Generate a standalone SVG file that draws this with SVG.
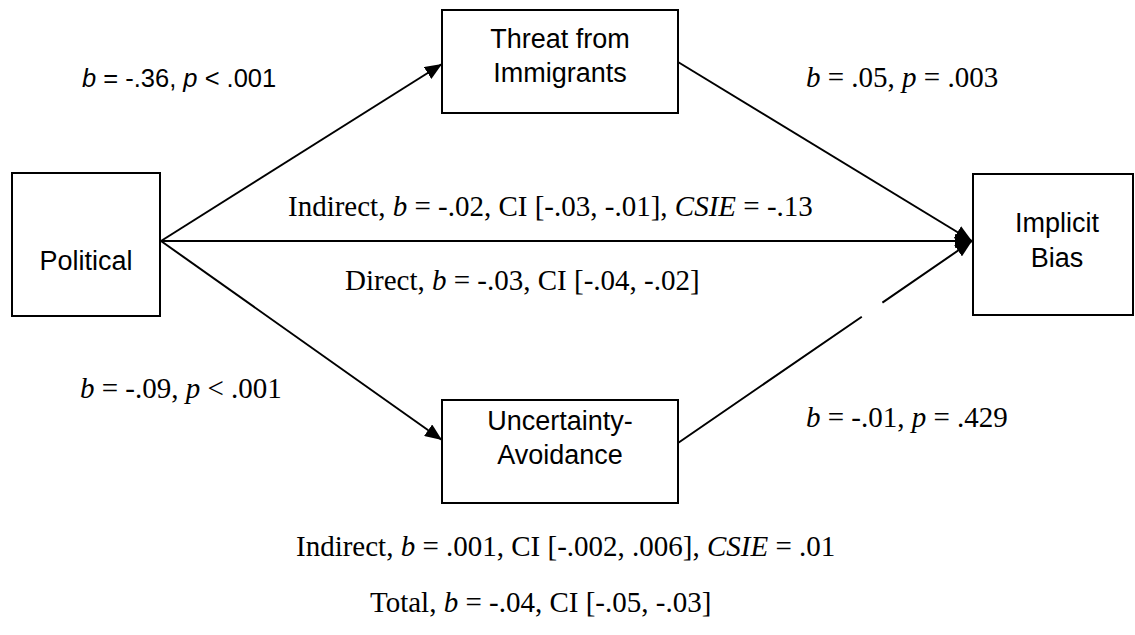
<svg xmlns="http://www.w3.org/2000/svg" width="1135" height="635" viewBox="0 0 1135 635">
  <style>
    .box { fill: #ffffff; stroke: #000000; stroke-width: 2; }
    .lbl { font-family: "Liberation Sans", Arial, sans-serif; font-size: 27px; fill: #000000; text-anchor: middle; }
    .sans { font-family: "Liberation Sans", Arial, sans-serif; font-size: 25.5px; fill: #000000; }
    .ser { font-family: "Liberation Serif", "Times New Roman", serif; font-size: 29px; fill: #000000; }
    .it { font-style: italic; }
    .edge { stroke: #000000; stroke-width: 2; fill: none; }
  </style>
  <defs>
    <marker id="arr" viewBox="0 0 10 10" refX="10" refY="5" markerWidth="8.5" markerHeight="7" markerUnits="strokeWidth" orient="auto" preserveAspectRatio="none">
      <path d="M0,0 L10,5 L0,10 Z" fill="#000000"/>
    </marker>
  </defs>
  <rect width="1135" height="635" fill="#ffffff"/>
  <g id="connectors">
    <line class="edge" x1="161" y1="241" x2="442" y2="64" marker-end="url(#arr)"/>
    <line class="edge" x1="161" y1="241" x2="442" y2="440" marker-end="url(#arr)"/>
    <line class="edge" x1="161" y1="241" x2="972" y2="241" marker-end="url(#arr)"/>
    <line class="edge" x1="678" y1="62" x2="972" y2="241" marker-end="url(#arr)"/>
    <line class="edge" x1="678" y1="443" x2="972" y2="241" stroke-dasharray="223 25 200" marker-end="url(#arr)"/>
  </g>
  <g id="node-political">
    <rect class="box" x="12" y="173" width="148" height="143"/>
    <text class="lbl" x="86" y="270">Political</text>
  </g>
  <g id="node-threat">
    <rect class="box" x="442" y="10" width="236" height="103"/>
    <text class="lbl" x="560" y="48">Threat from</text>
    <text class="lbl" x="560" y="82">Immigrants</text>
  </g>
  <g id="node-uncertainty">
    <rect class="box" x="442" y="400" width="236" height="103"/>
    <text class="lbl" x="560" y="430">Uncertainty-</text>
    <text class="lbl" x="560" y="464">Avoidance</text>
  </g>
  <g id="node-bias">
    <rect class="box" x="973" y="174" width="160" height="141"/>
    <text class="lbl" x="1057" y="232">Implicit</text>
    <text class="lbl" x="1057" y="267">Bias</text>
  </g>
  <g id="labels">
    <text class="sans" x="82" y="87"><tspan class="it">b</tspan> = -.36, <tspan class="it">p</tspan> &lt; .001</text>
    <text class="ser" x="806" y="87"><tspan class="it">b</tspan> = .05, <tspan class="it">p</tspan> = .003</text>
    <text class="ser" x="288" y="216">Indirect, <tspan class="it">b</tspan> = -.02, CI [-.03, -.01], <tspan class="it">CSIE</tspan> = -.13</text>
    <text class="ser" x="345" y="290">Direct, <tspan class="it">b</tspan> = -.03, CI [-.04, -.02]</text>
    <text class="ser" x="80" y="398"><tspan class="it">b</tspan> = -.09, <tspan class="it">p</tspan> &lt; .001</text>
    <text class="ser" x="806" y="427"><tspan class="it">b</tspan> = -.01, <tspan class="it">p</tspan> = .429</text>
    <text class="ser" x="296" y="556">Indirect, <tspan class="it">b</tspan> = .001, CI [-.002, .006], <tspan class="it">CSIE</tspan> = .01</text>
    <text class="ser" x="370" y="612">Total, <tspan class="it">b</tspan> = -.04, CI [-.05, -.03]</text>
  </g>
</svg>
